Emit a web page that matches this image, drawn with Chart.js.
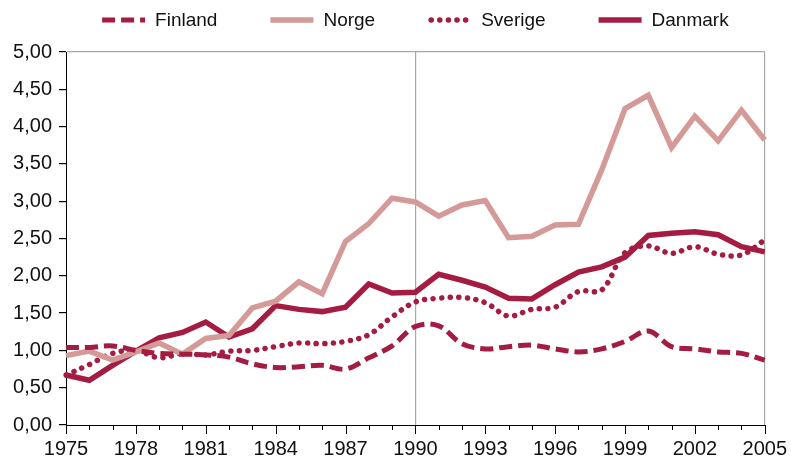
<!DOCTYPE html>
<html>
<head>
<meta charset="utf-8">
<script src="https://cdn.jsdelivr.net/npm/chart.js@4"></script>
<style>
  html, body { margin: 0; padding: 0; background: #fff; }
  #wrap { width: 791px; height: 465px; }
</style>
</head>
<body>
<div id="wrap"><canvas id="chart" width="791" height="465"></canvas></div>
<script>
// DATA
const years = [1975, 1976, 1977, 1978, 1979, 1980, 1981, 1982, 1983, 1984, 1985, 1986, 1987, 1988, 1989, 1990,
  1991, 1992, 1993, 1994, 1995, 1996, 1997, 1998, 1999, 2000, 2001, 2002, 2003, 2004, 2005];
const finland = [1.04, 1.04, 1.06, 1.00, 0.96, 0.95, 0.94, 0.91, 0.82, 0.77, 0.78, 0.80, 0.75, 0.90, 1.06, 1.32,
  1.33, 1.09, 1.02, 1.05, 1.07, 1.02, 0.98, 1.02, 1.12, 1.26, 1.05, 1.02, 0.98, 0.96, 0.87];
const norge = [0.93, 0.99, 0.87, 0.98, 1.10, 0.95, 1.16, 1.20, 1.57, 1.66, 1.92, 1.76, 2.46, 2.70, 3.04, 2.99,
  2.80, 2.95, 3.01, 2.51, 2.53, 2.68, 2.69, 3.42, 4.24, 4.42, 3.72, 4.14, 3.81, 4.22, 3.82];
const sverige = [0.67, 0.81, 0.96, 1.00, 0.90, 0.96, 0.94, 0.99, 1.00, 1.05, 1.10, 1.09, 1.12, 1.21, 1.45, 1.65,
  1.70, 1.71, 1.64, 1.46, 1.55, 1.58, 1.79, 1.81, 2.31, 2.40, 2.30, 2.39, 2.29, 2.28, 2.48];
const danmark = [0.67, 0.60, 0.80, 0.99, 1.17, 1.24, 1.38, 1.18, 1.29, 1.60, 1.55, 1.52, 1.58, 1.89, 1.77, 1.78,
  2.02, 1.94, 1.85, 1.70, 1.69, 1.88, 2.05, 2.12, 2.25, 2.54, 2.57, 2.59, 2.55, 2.39, 2.32];
const xTickYears = [1975, 1978, 1981, 1984, 1987, 1990, 1993, 1996, 1999, 2002, 2005];
const yTicks = [0, 0.5, 1, 1.5, 2, 2.5, 3, 3.5, 4, 4.5, 5];

const DARK = "#a51c42";
const LIGHT = "#d49a98";
const GRAY = "#a8a8a8";
const FONT = '"Liberation Sans", Arial, Helvetica, sans-serif';

// legend med linjeprøver over plottet
const lineLegend = {
  id: "lineLegend",
  afterDraw(chart) {
    const ctx = chart.ctx;
    const sample = 43, gap = 10, spacing = 53, y = 20;
    ctx.save();
    ctx.font = "19px " + FONT;
    const items = chart.data.datasets.map(ds => ({ ds, w: ctx.measureText(ds.label).width }));
    const total = items.reduce((s, it) => s + sample + gap + it.w, 0) + spacing * (items.length - 1);
    let x = (chart.chartArea.left + chart.chartArea.right) / 2 - total / 2;
    items.forEach(({ ds, w }) => {
      ctx.beginPath();
      ctx.setLineDash(ds.borderDash || []);
      ctx.lineCap = ds.borderCapStyle || "butt";
      ctx.lineWidth = ds.borderWidth;
      ctx.strokeStyle = ds.borderColor;
      ctx.moveTo(x + (ds.borderCapStyle === "round" ? 3 : 0), y);
      ctx.lineTo(x + sample, y);
      ctx.stroke();
      ctx.setLineDash([]);
      ctx.fillStyle = "#111";
      ctx.textBaseline = "middle";
      ctx.fillText(ds.label, x + sample + gap, y + 1);
      x += sample + gap + w + spacing;
    });
    ctx.restore();
  }
};

// lange og korte streker på x-aksen
const xTickMarks = {
  id: "xTickMarks",
  afterDraw(chart) {
    const ctx = chart.ctx;
    const xs = chart.scales.x;
    const bottom = chart.chartArea.bottom;
    ctx.save();
    ctx.strokeStyle = "#000";
    ctx.lineWidth = 1;
    years.forEach((yr, i) => {
      const px = Math.round(xs.getPixelForValue(i)) + 0.5;
      const len = xTickYears.includes(yr) ? 9 : 5;
      ctx.beginPath();
      ctx.moveTo(px, bottom);
      ctx.lineTo(px, bottom + len);
      ctx.stroke();
    });
    ctx.restore();
  }
};

new Chart(document.getElementById("chart"), {
  type: "line",
  data: {
    labels: years,
    datasets: [
      {
        label: "Finland", data: finland, borderColor: DARK, borderWidth: 5,
        borderDash: [13, 6], borderCapStyle: "butt", tension: 0.35, pointRadius: 0
      },
      {
        label: "Norge", data: norge, borderColor: LIGHT, borderWidth: 5.5,
        tension: 0, pointRadius: 0
      },
      {
        label: "Sverige", data: sverige, borderColor: DARK, borderWidth: 5.5,
        borderDash: [0.1, 8.5], borderCapStyle: "round", tension: 0.35, pointRadius: 0
      },
      {
        label: "Danmark", data: danmark, borderColor: DARK, borderWidth: 5.5,
        tension: 0, pointRadius: 0
      }
    ]
  },
  options: {
    responsive: false,
    animation: false,
    layout: { padding: { top: 52, right: 26, left: 0, bottom: 0 } },
    plugins: {
      legend: { display: false },
      tooltip: { enabled: false }
    },
    scales: {
      x: {
        type: "category",
        offset: false,
        afterFit: s => { s.height = 40; },
        border: { color: "#000", width: 1 },
        grid: {
          drawOnChartArea: true,
          color: c => (years[c.index] === 1990 || years[c.index] === 2005) ? GRAY : "transparent",
          lineWidth: 1.2,
          tickLength: 8,
          tickColor: "transparent"
        },
        ticks: {
          autoSkip: false,
          maxRotation: 0,
          padding: 4,
          color: "#111",
          font: { family: FONT, size: 20 },
          callback: (v, i) => xTickYears.includes(years[i]) ? String(years[i]) : ""
        }
      },
      y: {
        min: 0,
        max: 5,
        afterFit: s => { s.width = 66; },
        afterBuildTicks: s => { s.ticks = yTicks.map(v => ({ value: v })); },
        border: { color: "#000", width: 1 },
        grid: {
          drawOnChartArea: true,
          color: c => (c.tick && c.tick.value === 5) ? GRAY : "transparent",
          lineWidth: 1.2,
          tickLength: 7,
          tickColor: "#000"
        },
        ticks: {
          padding: 7,
          color: "#111",
          font: { family: FONT, size: 20 },
          callback: v => v.toFixed(2).replace(".", ",")
        }
      }
    }
  },
  plugins: [lineLegend, xTickMarks]
});
</script>
</body>
</html>
